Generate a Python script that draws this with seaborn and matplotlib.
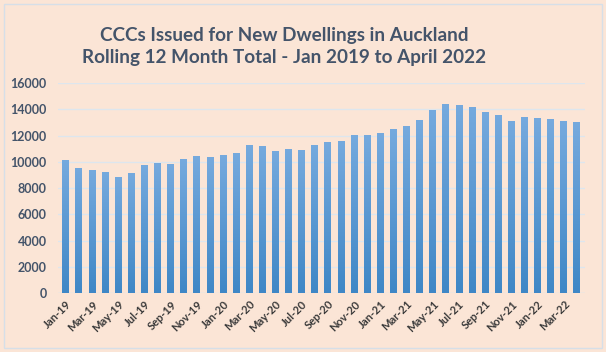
import numpy as np
import pandas as pd
import matplotlib.pyplot as plt
import seaborn as sns
from matplotlib.patches import Rectangle

# Rolling 12 month total of CCCs, Jan 2019 - Apr 2022
months = pd.date_range('2019-01-01', '2022-04-01', freq='MS').strftime('%b-%y').tolist()
cccs = [10150, 9550, 9400, 9250, 8870, 9170, 9780, 9930, 9860, 10240,
        10460, 10390, 10540, 10690, 11300, 11220, 10850, 11000, 10920, 11300,
        11530, 11610, 12060, 12060, 12210, 12520, 12750, 13210, 13970, 14430,
        14350, 14200, 13820, 13590, 13130, 13430, 13360, 13290, 13130, 13060]

title = 'CCCs Issued for New Dwellings in Auckland\nRolling 12 Month Total - Jan 2019 to April 2022'

df = pd.DataFrame({'month': months, 'cccs': cccs})

bg = '#fbe5d6'
txt = '#44546a'

sns.set_theme(style='white')
plt.rcParams['font.family'] = ['Lato', 'DejaVu Sans']

fig = plt.figure(figsize=(6.06, 3.52), dpi=100, facecolor=bg)
ax = fig.add_axes([0.0957, 0.1676, 0.8693, 0.5966])
ax.set_facecolor(bg)

sns.barplot(data=df, x='month', y='cccs', color='#5b9bd5', width=0.53,
            saturation=1, ax=ax, zorder=2)

# vertical gradient fill on the bars, like the Excel original
grad = np.linspace(0, 1, 256).reshape(-1, 1)
cmap = plt.matplotlib.colors.LinearSegmentedColormap.from_list('g', ['#3f87c6', '#76aade'])
for p in ax.patches:
    x0, y0 = p.get_x(), p.get_y()
    w, h = p.get_width(), p.get_height()
    im = ax.imshow(grad, cmap=cmap, aspect='auto', origin='lower',
                   extent=[x0, x0 + w, y0, y0 + h], zorder=3)
    im.set_clip_path(p)
    p.set_alpha(0)

ax.set_xlim(-0.6, 39.6)
ax.set_ylim(0, 16000)
ax.set_yticks(range(0, 16001, 2000))
ax.yaxis.grid(True, color='#dde6ee', linewidth=1)
ax.set_axisbelow(True)
for s in ax.spines.values():
    s.set_visible(False)
ax.axhline(0, color='#dde6ee', lw=1, zorder=1)

ax.set_xticks(range(0, 40, 2))
ax.set_xticklabels(months[::2], rotation=45, ha='right', rotation_mode='anchor',
                   fontsize=8, fontweight='bold', color='#3a3a3a')
ax.tick_params(axis='x', length=0, pad=4)
ax.tick_params(axis='y', length=0, pad=8, labelsize=9, labelcolor=txt)
for lbl in ax.get_yticklabels():
    lbl.set_fontweight('bold')
ax.set_xlabel('')
ax.set_ylabel('')

fig.text(0.469, 0.868, title, ha='center', va='center', fontsize=13.6,
         fontweight='bold', color=txt, linespacing=1.4)

fig.patches.append(Rectangle((0.007, 0.011), 0.986, 0.978, transform=fig.transFigure,
                             fill=False, edgecolor='#d6dfe8', linewidth=1))

fig.savefig('out.png', dpi=100, facecolor=bg)
